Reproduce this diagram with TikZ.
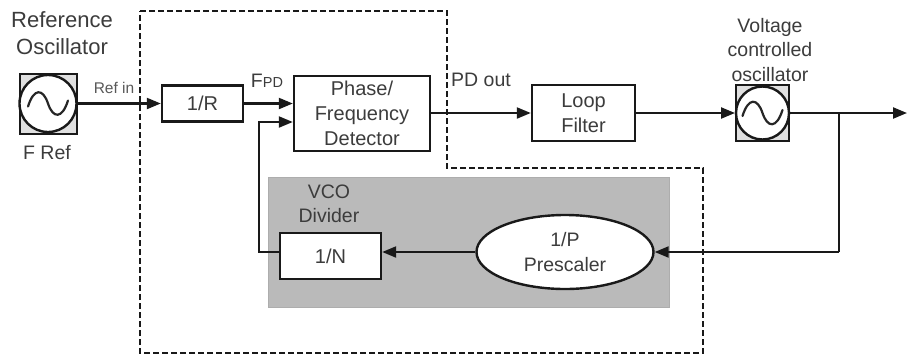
\documentclass[tikz,border=0pt]{standalone}
\usepackage{fontspec}
\setmainfont{Liberation Sans}
\usetikzlibrary{arrows.meta,shapes.geometric}
\definecolor{txt}{HTML}{3C3C3C}
\tikzset{
  x=1pt,y=-1pt,
  wire/.style={line width=2.2pt,draw=black!90},
  arr/.style={wire,-{Triangle[length=14pt,width=11pt]}},
  blockbox/.style={draw=black!90,line width=2.4pt,fill=white,rectangle,anchor=center,inner sep=0pt,font=\fontsize{20}{25}\selectfont,text=txt,align=center},
  lab/.style={font=\fontsize{19.5}{24.5}\selectfont,text=txt,align=center,inner sep=0pt},
  oscbox/.style={draw=black!90,line width=2pt,fill=black!12,rectangle,inner sep=0pt},
  osccirc/.style={draw=black!90,line width=2.4pt,circle,inner sep=0pt,fill=white},
  sinewave/.style={draw=black!85,line width=2.2pt,line cap=round},
  frame/.style={draw=black!90,line width=2pt,dash pattern=on 6pt off 3pt},
}
\newcommand{\sinesym}[2]{%
  \draw[sinewave,shift={(#1,#2)}] (-20,3) .. controls (-14,-16) and (-5,-15) .. (0,0) .. controls (5,15) and (14,16) .. (20,-3);}
\begin{document}
\begin{tikzpicture}
\useasboundingbox (0,0) rectangle (907,357);
\fill[white] (0,0) rectangle (907,357);
% dashed frame
\draw[frame] (140,11) -- (447,11) -- (447,168) -- (703,168) -- (703,353) -- (140,353) -- cycle;
% gray panel
\node[fill=black!27,draw=black!32,line width=0.8pt,minimum width=401pt,minimum height=130pt,inner sep=0pt] (panel) at (468.5,242.5) {};
% blocks
\node[oscbox,minimum width=57pt,minimum height=60pt] (refbox) at (48,103.5) {};
\node[osccirc,minimum size=57pt] (refosc) at (48,103.5) {};
\sinesym{48}{103.5}
\node[blockbox,minimum width=81pt,minimum height=36pt] (divr) at (202.5,103.5) {1/R};
\node[blockbox,minimum width=136pt,minimum height=75pt] (pfd) at (362,113.5) {Phase/\\Frequency\\Detector};
\node[blockbox,minimum width=103pt,minimum height=56pt] (filter) at (583.5,113) {Loop\\Filter};
\node[oscbox,minimum width=53pt,minimum height=56pt] (vcobox) at (762.5,113) {};
\node[osccirc,minimum size=53pt] (vco) at (762.5,113) {};
\sinesym{762.5}{113}
\node[blockbox,minimum width=101pt,minimum height=46pt] (divn) at (330.5,256) {1/N};
\node[draw=black!90,line width=2.4pt,fill=white,ellipse,minimum width=177pt,minimum height=74pt,inner sep=0pt,lab] (pre) at (565,252) {1/P\\Prescaler};
% connector points
\coordinate (out) at (907,113);
\coordinate (tap) at (839,113);
\coordinate (tapdown) at (839,252);
\coordinate (fbcorner) at (259,252);
\coordinate (fbtop) at (259,122);
% connectors
\draw[arr] (refbox.east) -- (divr.west);
\draw[arr] (divr.east) -- (pfd.west |- divr.east);
\draw[arr] (pfd.east |- filter.west) -- (filter.west);
\draw[arr] (filter.east) -- (vcobox.west);
\draw[arr] (vcobox.east) -- (out);
\draw[wire] (tap) -- (tapdown);
\draw[arr] (tapdown) -- (pre.east);
\draw[arr] (pre.west) -- (divn.east |- pre.west);
\draw[arr] (divn.west |- pre.west) -- (fbcorner) -- (fbtop) -- (pfd.west |- fbtop);
% labels
\node[lab,font=\fontsize{22}{27}\selectfont] (t1) at (62,33) {Reference\\Oscillator};
\node[lab] (t2) at (47,153) {F Ref};
\node[lab,font=\fontsize{15.5}{18}\selectfont,text=black!65] (t3) at (114,88) {Ref in};
\node[lab] (t4) at (267,81) {F\fontsize{14.5}{18}\selectfont PD};
\node[lab] (t5) at (481,80) {PD out};
\node[lab] (t6) at (770,50) {Voltage\\controlled\\oscillator};
\node[lab] (t7) at (329,204) {VCO\\Divider};
\end{tikzpicture}
\end{document}
